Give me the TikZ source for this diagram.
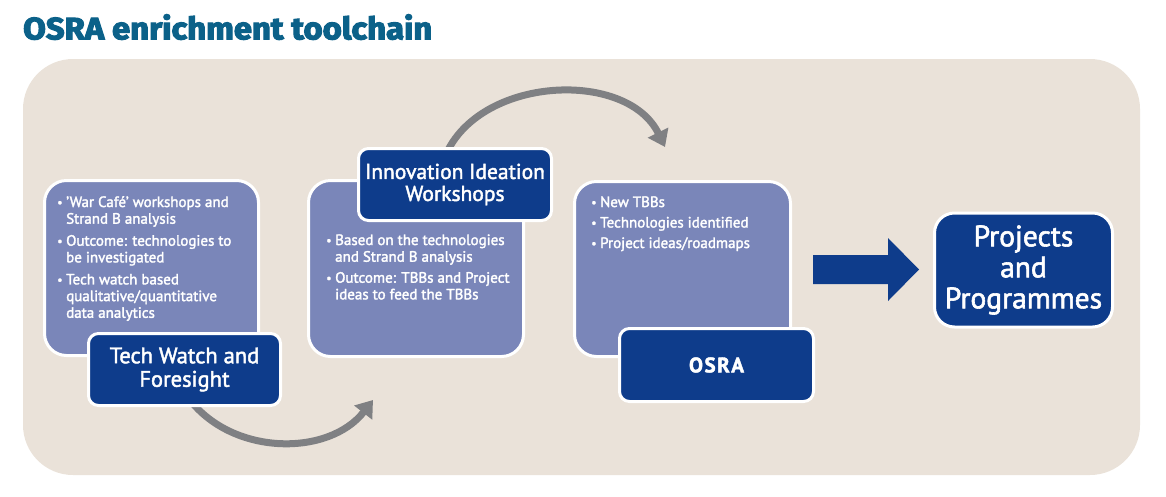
\documentclass[tikz,border=0pt]{standalone}
\usepackage{fontspec}
\setmainfont{PT Sans}[FakeBold=2]
\newfontfamily\titlefont{Fira Sans}[FakeBold=3.5]
\usetikzlibrary{arrows.meta,calc}
\definecolor{bgc}{HTML}{EAE2D9}
\definecolor{lightc}{HTML}{7A86B9}
\definecolor{darkc}{HTML}{0E3C8B}
\definecolor{titlec}{HTML}{0B6189}
\definecolor{greyc}{HTML}{7F8083}
\tikzset{
  lightbox/.style={fill=lightc, draw=white, line width=3pt, rounded corners=22pt, inner sep=0pt},
  darkbox/.style={fill=darkc, draw=white, line width=3pt, rounded corners=10pt, inner sep=0pt, text=white, align=center},
  bultext/.style={text=white, inner sep=0pt, anchor=base west, font=\fontsize{15}{16.7}\selectfont},
  curvearrow/.style={draw=greyc, line width=7pt, -{Triangle[length=16pt,width=22pt]}},
}
\newcommand{\bl}{\raisebox{0.5pt}{\scalebox{0.8}{\textbullet}}}
\begin{document}
\begin{tikzpicture}[x=1pt,y=1pt]
\useasboundingbox (0,0) rectangle (1166,-496);
\fill[bgc, rounded corners=50pt] (23,-59) rectangle (1140,-475);
\node[anchor=south west, inner sep=0pt, text=titlec] (title) at (23,-40)
  {\resizebox{409pt}{25pt}{\titlefont\bfseries OSRA enrichment toolchain}};

\path (184.5,-369.5) coordinate (t1c);
\path (455,-184.5) coordinate (t2c);
\coordinate (a1end) at (373,-400);
\coordinate (a2end) at (665,-147);
\draw[curvearrow] (190,-400) to[out=-52,in=-128] (a1end);
\draw[curvearrow] (447,-152) to[out=64,in=116] (a2end);

% box 1
\node[lightbox, minimum width=214pt, minimum height=175pt] (b1) at (151.5,-268) {};
\node[bultext] (b1txt) at (57,-207) {\begin{tabular}[t]{@{}p{9pt}@{}l@{}}
\bl & 'War Café' workshops and\\
    & Strand B analysis\\[5.3pt]
\bl & Outcome: technologies to\\
    & be investigated\\[5.3pt]
\bl & Tech watch based\\
    & qualitative/quantitative\\
    & data analytics
\end{tabular}};
\node[darkbox, minimum width=192pt, minimum height=72pt, font=\fontsize{22.5}{23.5}\selectfont] (t1) at (t1c) {Tech Watch and\\Foresight};

% box 2
\node[lightbox, minimum width=215pt, minimum height=176pt] (b2) at (416,-268.5) {};
\node[bultext] (b2txt) at (326,-245) {\begin{tabular}[t]{@{}p{9pt}@{}l@{}}
\bl & Based on the technologies\\
    & and Strand B analysis\\[4.3pt]
\bl & Outcome: TBBs and Project\\
    & ideas to feed the TBBs
\end{tabular}};
\node[darkbox, minimum width=193pt, minimum height=72pt, font=\fontsize{21.5}{22}\selectfont] (t2) at (t2c) {Innovation Ideation\\Workshops};

% box 3
\node[lightbox, minimum width=216pt, minimum height=175pt] (b3) at (682.5,-269) {};
\node[bultext] (b3txt) at (591,-207) {\begin{tabular}[t]{@{}p{9pt}@{}l@{}}
\bl & New TBBs\\[3.8pt]
\bl & Technologies identified\\[3.8pt]
\bl & Project ideas/roadmaps
\end{tabular}};
\node[darkbox, minimum width=194pt, minimum height=73pt, font=\fontsize{21}{22}\selectfont\bfseries] (t3) at (716.5,-365) {O\kern1.5pt S\kern1.5pt R\kern1.5pt A};

% block arrow
\fill[darkc] (813,-255) -- (888,-255) -- (888,-238) -- (919,-269.5) -- (888,-301) -- (888,-284) -- (813,-284) -- cycle;

% projects
\node[darkbox, rounded corners=20pt, minimum width=178pt, minimum height=114pt, font=\fontsize{29.5}{31}\selectfont] (pp) at (1023.5,-270) {Projects\\and\\Programmes};
\end{tikzpicture}
\end{document}
